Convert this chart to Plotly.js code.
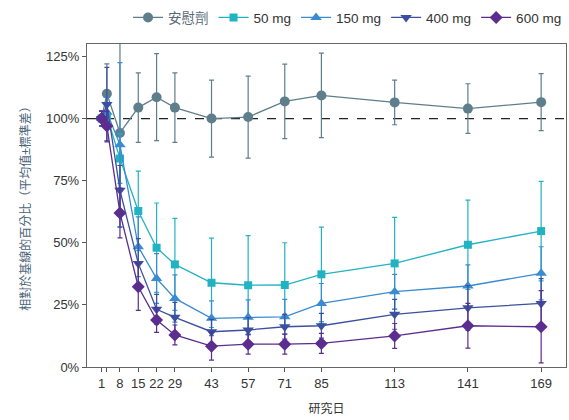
<!DOCTYPE html>
<html><head><meta charset="utf-8">
<script src="https://cdn.plot.ly/plotly-3.0.1.min.js"></script>
<style>html,body{margin:0;padding:0;background:#fff}#chart{width:569px;height:420px}</style>
</head><body><div id="chart"></div>
<script>
const days = [1, 3, 8, 15, 22, 29, 43, 57, 71, 85, 113, 141, 169];
const tickLabels = ["1", "", "8", "15", "22", "29", "43", "57", "71", "85", "113", "141", "169"];
const seriesNames = ["安慰劑", "50 mg", "150 mg", "400 mg", "600 mg"];

const placeboMean = [100, 110, 94.2, 104.4, 108.6, 104.4, 100, 100.6, 106.9, 109.3, 106.5, 104, 106.6];
const placeboSD   = [3, 12, 38, 14, 17.5, 14, 15.5, 16.5, 15, 17, 9, 10, 11.5];
const mg50Mean    = [100, 101, 83.9, 62.8, 48, 41.3, 33.9, 32.9, 33, 37.3, 41.7, 49.2, 54.7];
const mg50SD      = [3, 5, 10, 16, 18, 18.5, 18, 20, 17, 19, 18.5, 18, 20];
const mg150Mean   = [100, 102.5, 89.5, 48.4, 35.6, 27.6, 19.6, 20, 20.2, 25.6, 30.3, 32.6, 37.7];
const mg150SD     = [3, 6, 33, 12, 10, 9.5, 7, 7, 7, 8, 7, 8.5, 10.7];
const mg400Mean   = [100, 105.6, 71.1, 41.7, 23.2, 20, 14.2, 14.9, 16.2, 16.6, 21.2, 23.8, 25.6];
const mg400SD     = [3, 15, 10, 10, 6, 6, 5, 5, 5, 5, 6, 9, 10];
const mg600Mean   = [100, 97, 62, 32.3, 18.9, 12.9, 8.4, 9.2, 9.2, 9.5, 12.5, 16.6, 16.2];
const mg600SD     = [3, 6, 10, 9.5, 5, 4, 5.6, 4, 4, 4, 5, 9, 14.5];

const colors  = ["#5f7e8c", "#22b3c2", "#3a8bd0", "#3b4f9e", "#5b2d8e"];
const symbols = ["circle", "square", "triangle-up", "triangle-down", "diamond"];
const means = [placeboMean, mg50Mean, mg150Mean, mg400Mean, mg600Mean];
const sds   = [placeboSD, mg50SD, mg150SD, mg400SD, mg600SD];

const traces = seriesNames.map((n, i) => ({
  type: "scatter",
  mode: "lines+markers",
  x: days,
  y: means[i],
  name: i === 0 ? '<span style="color:#5a6b78">' + n + '</span>' : n,
  line: {color: colors[i], width: 1.3},
  marker: {color: colors[i], symbol: symbols[i], size: i === 1 ? 8 : 10},
  error_y: {type: "data", array: sds[i], visible: true, color: colors[i], thickness: 1.2, width: 2.5},
  cliponaxis: true
}));

const layout = {
  width: 569, height: 420,
  margin: {l: 87, r: 3, t: 44, b: 53},
  paper_bgcolor: "#fff", plot_bgcolor: "#fff",
  font: {family: "Liberation Sans, Noto Sans CJK TC, sans-serif", size: 13, color: "#333"},
  showlegend: true,
  legend: {orientation: "h", xref: "container", yref: "container", x: 0.225, xanchor: "left",
           y: 0.958, yanchor: "middle",
           font: {size: 13.5, color: "#333"}, itemwidth: 30, tracegroupgap: 0},
  xaxis: {
    range: [-4.6, 178.5],
    tickmode: "array", tickvals: days, ticktext: tickLabels,
    ticks: "outside", ticklen: 4, tickcolor: "#555",
    showline: true, linecolor: "#666", linewidth: 1.2, mirror: true,
    showgrid: false, zeroline: false,
    tickfont: {size: 13, color: "#333"},
    title: {text: "研究日", font: {size: 12, color: "#333"}, standoff: 14}
  },
  yaxis: {
    range: [0, 130],
    tickvals: [0, 25, 50, 75, 100, 125],
    ticktext: ["0%", "25%", "50%", "75%", "100%", "125%"],
    ticks: "outside", ticklen: 4, tickcolor: "#555",
    showline: true, linecolor: "#666", linewidth: 1.2, mirror: true,
    showgrid: false, zeroline: false,
    tickfont: {size: 13, color: "#333"},
    title: {text: "相對於基線的百分比（平均值±標準差）", font: {size: 12, color: "#4a6478"}, standoff: 12}
  },
  shapes: [{type: "line", xref: "paper", x0: 0, x1: 1, yref: "y", y0: 100, y1: 100,
            line: {color: "#222", width: 1.3, dash: "dash"}, layer: "below"}]
};

Plotly.newPlot("chart", traces, layout, {displayModeBar: false, staticPlot: true});
</script></body></html>
